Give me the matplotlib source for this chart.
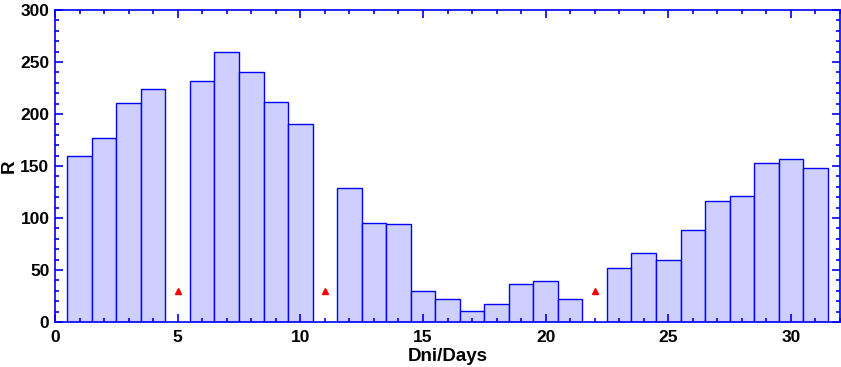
import matplotlib as mpl
mpl.use('Agg')
import matplotlib.pyplot as plt
from matplotlib.ticker import MultipleLocator

# data
days = [1, 2, 3, 4, 6, 7, 8, 9, 10, 12, 13, 14, 15, 16, 17, 18, 19, 20, 21,
        23, 24, 25, 26, 27, 28, 29, 30, 31]
r_values = [160, 177, 211, 224, 232, 260, 240, 212, 190, 128.5, 95, 94, 29.5,
            22, 11, 17, 37, 39, 22, 51.5, 66, 60, 88, 116, 121, 152.5, 157, 148]
missing_days = [5, 11, 22]
missing_marker_y = [30, 30, 30]

plt.rcParams['font.family'] = ['Liberation Sans', 'DejaVu Sans']

fig = plt.figure(figsize=(8.41, 3.67), dpi=100)
ax = fig.add_axes([55 / 841, 45 / 367, 785 / 841, 312 / 367])

ax.bar(days, r_values, width=1.0, color='#CFCFFF', edgecolor='#0000FF', linewidth=1.0)
ax.plot(missing_days, missing_marker_y, linestyle='none', marker='^',
        color='red', markersize=5)

ax.set_xlim(0, 32)
ax.set_ylim(0, 300)
ax.xaxis.set_major_locator(MultipleLocator(5))
ax.xaxis.set_minor_locator(MultipleLocator(1))
ax.yaxis.set_major_locator(MultipleLocator(50))
ax.yaxis.set_minor_locator(MultipleLocator(10))

for s in ax.spines.values():
    s.set_color('#0000FF')
    s.set_linewidth(1.2)

ax.tick_params(which='both', direction='in', top=True, right=True,
               color='#0000FF', width=1.2)
ax.tick_params(which='major', length=6, labelsize=12.5)
ax.tick_params(axis='x', which='major', pad=6)
ax.tick_params(axis='y', which='major', pad=4)
ax.tick_params(which='minor', length=3)
for lbl in ax.get_xticklabels() + ax.get_yticklabels():
    lbl.set_fontweight('bold')

ax.set_xlabel('Dni/Days', fontsize=13.5, fontweight='bold', labelpad=2)
ax.set_ylabel('R', fontsize=13.5, fontweight='bold', labelpad=2)

fig.savefig('out.png', dpi=100)
